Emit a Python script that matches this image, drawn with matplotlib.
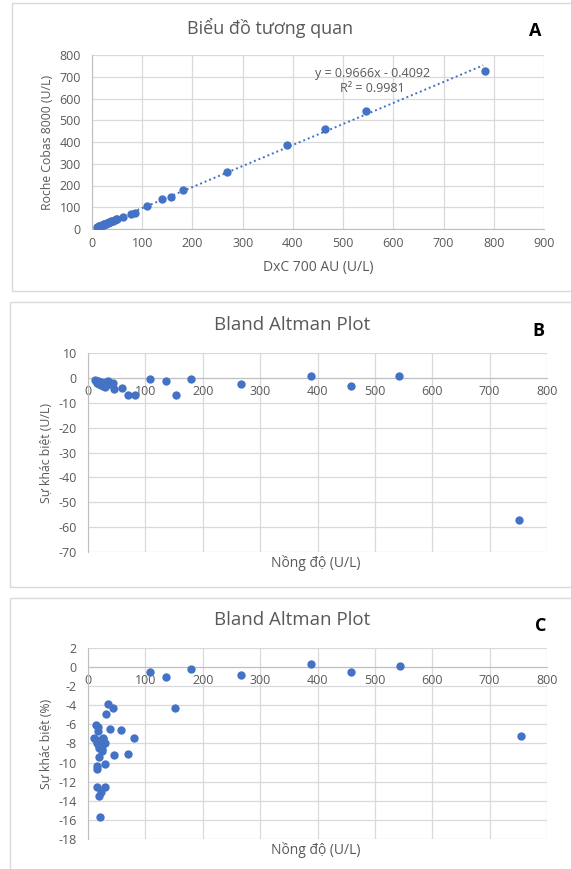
import matplotlib.pyplot as plt
import numpy as np
from matplotlib.patches import Rectangle

plt.rcParams['font.family'] = ['Open Sans', 'DejaVu Sans']
plt.rcParams['axes.unicode_minus'] = False

# Panel A: correlation DxC 700 AU vs Roche Cobas 8000
dxc = [10, 12, 13, 14, 15, 16, 17, 18, 19, 20, 21, 22, 23, 24, 25, 26, 28, 29, 30, 31,
       33, 35, 36, 38, 40, 42, 45, 47, 50, 62, 78, 86, 109, 139, 158, 181, 268, 389,
       463, 545, 783]
roche = [9, 11, 12, 13, 13, 14, 15, 16, 17, 18, 19, 20, 21, 22, 22, 23, 25, 26, 27, 29,
         31, 33, 34, 36, 37, 39, 42, 44, 47, 57, 69, 75, 106, 136, 147, 178, 262, 388,
         458, 542, 725]
slope, intercept = 0.9666, -0.4092
r2_text = "R² = 0.9981"

# Panel B: difference (U/L) vs mean concentration
b_mean = [12, 14, 15, 16, 16, 17, 18, 19, 19, 20, 21, 22, 22, 24, 25, 26, 27, 27, 29, 30,
          30, 31, 34, 38, 44, 46, 60, 70, 82, 108, 136, 153, 179, 267, 389, 459, 542, 752]
b_diff = [-0.9, -1.1, -1.9, -1.7, -1.2, -1.1, -1.5, -1.8, -2.6, -1.7, -2.5, -1.7, -2.9,
          -2.0, -2.2, -2.1, -2.0, -3.3, -2.3, -3.0, -3.8, -1.5, -1.3, -2.5, -1.9, -4.3,
          -4.0, -6.8, -6.8, -0.5, -1.3, -6.8, -0.5, -2.5, 0.9, -3.1, 0.7, -57.3]

# Panel C: difference (%) vs mean concentration
c_mean = [34, 44, 31, 14, 18, 17, 38, 58, 81, 10, 27, 45, 70, 19, 30, 16, 16, 15, 30, 22,
          19, 21, 14, 16, 18, 20, 22, 24, 26, 29, 25, 19, 21, 27,
          108, 136, 151, 179, 267, 389, 459, 544, 754]
c_pct = [-3.9, -4.3, -4.9, -6.1, -6.3, -6.7, -6.5, -6.6, -7.4, -7.45, -7.4, -9.2, -9.1,
         -9.4, -10.1, -10.4, -10.7, -12.6, -12.6, -13.1, -13.5, -15.7, -7.6, -7.9, -8.1,
         -8.3, -7.8, -8.6, -8.0, -8.0, -8.8, -8.5, -7.6, -7.5,
         -0.5, -1.0, -4.3, -0.2, -0.8, 0.3, -0.5, 0.15, -7.25]

W, H = 571, 869
BLUE = '#4472C4'
GREY = '#595959'
GRID = '#d9d9d9'

fig = plt.figure(figsize=(W / 100, H / 100), dpi=100)


def box(x0, y0, x1, y1):
    return [x0 / W, 1 - y1 / H, (x1 - x0) / W, (y1 - y0) / H]


def frame(x0, y0, x1, y1):
    fig.patches.append(Rectangle((x0 / W, 1 - y1 / H), (x1 - x0) / W, (y1 - y0) / H,
                                 transform=fig.transFigure, fill=False,
                                 edgecolor=GRID, lw=1))


def style(ax):
    ax.grid(True, color=GRID, lw=0.9)
    ax.set_axisbelow(True)
    for s in ['top', 'right']:
        ax.spines[s].set_visible(False)
    for s in ['left', 'bottom']:
        ax.spines[s].set_color('#bfbfbf')
    ax.tick_params(length=0, labelsize=9, labelcolor=GREY)


frame(12, 3, 580, 291)
frame(10, 302, 580, 587)
frame(10, 598, 580, 875)

# ---- A ----
ax = fig.add_axes(box(92, 55, 544, 229))
style(ax)
ax.scatter(dxc, roche, s=36, color=BLUE, zorder=3, lw=0)
xl = np.array([min(dxc), max(dxc) - 4])
ax.plot(xl, slope * xl + intercept, ls=(0, (1, 1.5)), color=BLUE, lw=1.4, zorder=2)
ax.set_xlim(0, 900)
ax.set_ylim(0, 800)
ax.set_xticks(range(0, 901, 100))
ax.set_yticks(range(0, 801, 100))
ax.tick_params(axis='x', pad=6)
ax.tick_params(axis='y', pad=8)
ax.set_xlabel('DxC 700 AU (U/L)', fontsize=10, color=GREY, labelpad=7)
ax.set_ylabel('Roche Cobas 8000 (U/L)', fontsize=8.8, color=GREY, labelpad=4)
ax.text(558, 717, f"y = {slope}x - {abs(intercept)}", fontsize=9, color=GREY,
        ha='center', va='center')
ax.text(558, 644, r2_text, fontsize=9, color=GREY, ha='center', va='center')
fig.text(270 / W, 1 - 28 / H, 'Biểu đồ tương quan', fontsize=13, color=GREY,
         ha='center', va='center')
fig.text(535 / W, 1 - 31 / H, 'A', fontsize=13, fontweight='bold', ha='center',
         va='center')


def bland(ax, x, y, ylim, step, ylabel):
    style(ax)
    ax.scatter(x, y, s=36, color=BLUE, zorder=3, lw=0)
    ax.set_xlim(0, 800)
    ax.set_ylim(*ylim)
    ax.set_xticks(range(0, 801, 100))
    ax.set_yticks(np.arange(ylim[0], ylim[1] + 0.1, step))
    ax.spines['bottom'].set_position(('data', 0))
    ax.spines['bottom'].set_color('#bfbfbf')
    ax.tick_params(axis='x', pad=5)
    ax.tick_params(axis='y', pad=8)
    ax.set_ylabel(ylabel, fontsize=8.8, color=GREY, labelpad=4)


# ---- B ----
ax = fig.add_axes(box(88, 353, 547, 552))
bland(ax, b_mean, b_diff, (-70, 10), 10, 'Sự khác biệt (U/L)')
fig.text(316 / W, 1 - 563 / H, 'Nồng độ (U/L)', fontsize=10, color=GREY,
         ha='center', va='center')
fig.text(292 / W, 1 - 325 / H, 'Bland Altman Plot', fontsize=13.5, color=GREY,
         ha='center', va='center')
fig.text(538 / W, 1 - 331 / H, 'B', fontsize=13, fontweight='bold', ha='center',
         va='center')

# ---- C ----
ax = fig.add_axes(box(88, 648, 547, 839))
bland(ax, c_mean, c_pct, (-18, 2), 2, 'Sự khác biệt (%)')
fig.text(316 / W, 1 - 850 / H, 'Nồng độ (U/L)', fontsize=10, color=GREY,
         ha='center', va='center')
fig.text(292 / W, 1 - 620 / H, 'Bland Altman Plot', fontsize=13.5, color=GREY,
         ha='center', va='center')
fig.text(541 / W, 1 - 626 / H, 'C', fontsize=13, fontweight='bold', ha='center',
         va='center')

fig.savefig('out.png', dpi=100)
